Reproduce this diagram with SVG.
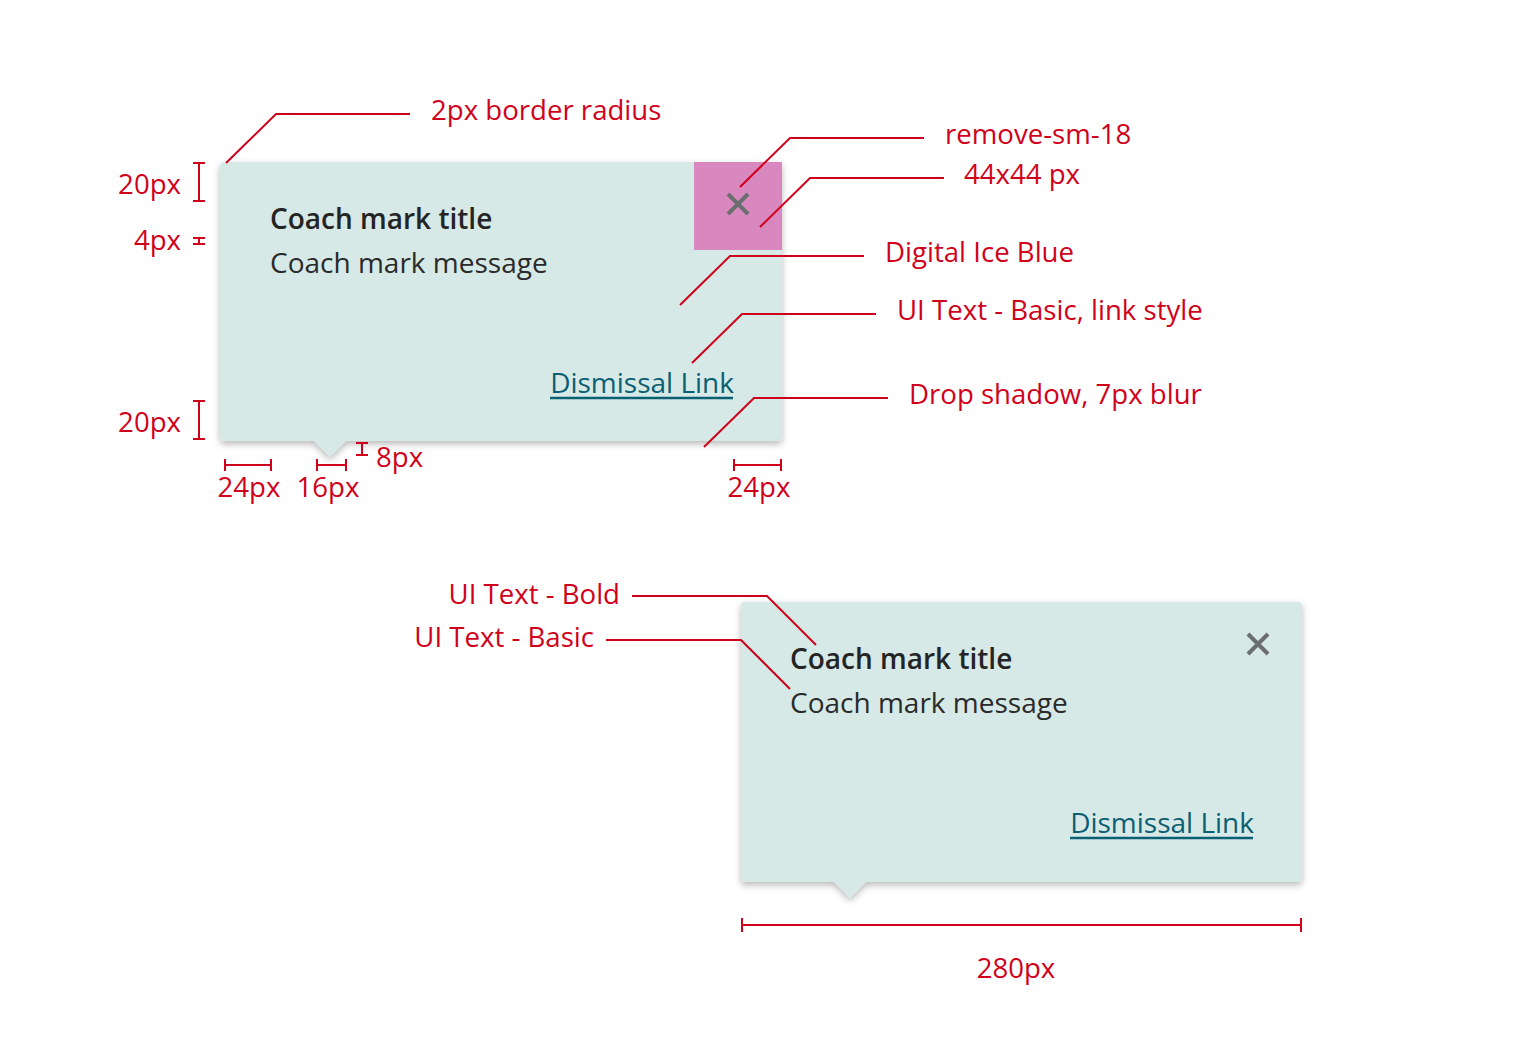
<svg xmlns="http://www.w3.org/2000/svg" width="1520" height="1064" viewBox="0 0 1520 1064">
<defs>
<filter id="sh" x="-10%" y="-10%" width="120%" height="130%">
<feDropShadow dx="0" dy="3" stdDeviation="3.5" flood-color="#000" flood-opacity="0.28"/>
</filter>
</defs>
<style>
.lbl{font-family:"Open Sans","Noto Sans",sans-serif;font-size:27.6px;fill:#d0021b}
.ln{fill:none;stroke:#d0021b;stroke-width:2}
.card{fill:#d6e9e6}
.ttl{font-family:"Open Sans","Noto Sans",sans-serif;font-size:28px;font-weight:600;fill:#242424}
.msg{font-family:"Open Sans","Noto Sans",sans-serif;font-size:28px;fill:#2a2a2a}
.lnk{font-family:"Open Sans","Noto Sans",sans-serif;font-size:28px;fill:#0b5f73}
.ul{stroke:#0b5f73;stroke-width:2.5}
.x{stroke:#6b6e6e;stroke-width:4;stroke-linecap:butt}
</style>
<rect width="1520" height="1064" fill="#fff"/>

<g id="card1">
<path class="card" filter="url(#sh)" d="M224 162 H778 Q782 162 782 166 V437 Q782 441 778 441 H346 L330 457 L314 441 H224 Q220 441 220 437 V166 Q220 162 224 162 Z"/>
<rect x="694" y="162" width="88" height="88" fill="#d987bf"/>
<path class="x" d="M728 194 L748 214 M748 194 L728 214"/>
<text class="ttl" x="270" y="229">Coach mark title</text>
<text class="msg" x="270" y="273">Coach mark message</text>
<text class="lnk" x="734" y="393" text-anchor="end">Dismissal Link</text>
<line class="ul" x1="550" y1="398" x2="733" y2="398"/>
</g>

<g id="card2">
<path class="card" filter="url(#sh)" d="M745 602 H1298 Q1302 602 1302 606 V878 Q1302 882 1298 882 H866 L850 898 L834 882 H745 Q741 882 741 878 V606 Q741 602 745 602 Z"/>
<path class="x" d="M1248 634 L1268 654 M1268 634 L1248 654"/>
<text class="ttl" x="790" y="669">Coach mark title</text>
<text class="msg" x="790" y="713">Coach mark message</text>
<text class="lnk" x="1254" y="833" text-anchor="end">Dismissal Link</text>
<line class="ul" x1="1070" y1="838" x2="1253" y2="838"/>
</g>

<g id="connectors">
<polyline class="ln" points="226,163 276,114 410,114"/>
<polyline class="ln" points="740,187 790,138 924,138"/>
<polyline class="ln" points="760,227 810,178 944,178"/>
<polyline class="ln" points="680,305 730,256 864,256"/>
<polyline class="ln" points="692,363 742,314 876,314"/>
<polyline class="ln" points="704,447 754,398 888,398"/>
<polyline class="ln" points="632,596 767,596 816,645"/>
<polyline class="ln" points="606,640 741,640 790,689"/>
<path class="ln" d="M199 162 V202 M193 163 H205 M193 201 H205"/>
<path class="ln" d="M199 237 V245 M193 238 H205 M193 244 H205"/>
<path class="ln" d="M199 400 V440 M193 401 H205 M193 439 H205"/>
<path class="ln" d="M224 465 H272 M225 459 V471 M271 459 V471"/>
<path class="ln" d="M316 465 H347 M317 459 V471 M346 459 V471"/>
<path class="ln" d="M362 442 V456 M356 443 H368 M356 455 H368"/>
<path class="ln" d="M733 465 H782 M734 459 V471 M781 459 V471"/>
<path class="ln" d="M741 925 H1302 M742 918 V932 M1301 918 V932"/>
</g>

<g id="labels">
<text class="lbl" x="431" y="120">2px border radius</text>
<text class="lbl" x="945" y="144">remove-sm-18</text>
<text class="lbl" x="964" y="184">44x44 px</text>
<text class="lbl" x="885" y="262">Digital Ice Blue</text>
<text class="lbl" x="897" y="320">UI Text - Basic, link style</text>
<text class="lbl" x="909" y="404">Drop shadow, 7px blur</text>
<text class="lbl" x="181" y="194" text-anchor="end">20px</text>
<text class="lbl" x="181" y="250" text-anchor="end">4px</text>
<text class="lbl" x="181" y="432" text-anchor="end">20px</text>
<text class="lbl" x="249" y="497" text-anchor="middle">24px</text>
<text class="lbl" x="328" y="497" text-anchor="middle">16px</text>
<text class="lbl" x="376" y="467">8px</text>
<text class="lbl" x="759" y="497" text-anchor="middle">24px</text>
<text class="lbl" x="620" y="604" text-anchor="end">UI Text - Bold</text>
<text class="lbl" x="594" y="647" text-anchor="end">UI Text - Basic</text>
<text class="lbl" x="1016" y="978" text-anchor="middle">280px</text>
</g>
</svg>
